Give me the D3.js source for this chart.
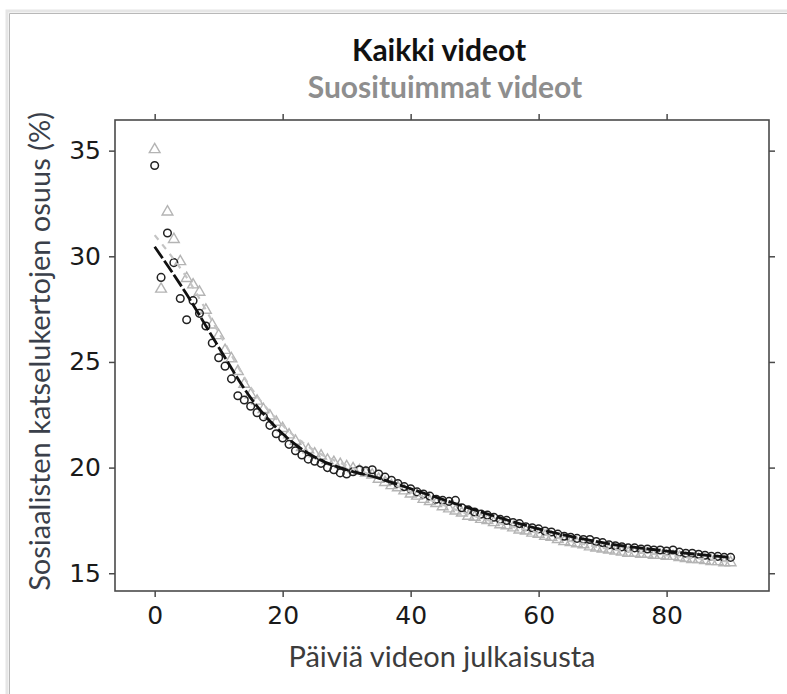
<!DOCTYPE html>
<html>
<head>
<meta charset="utf-8">
<script src="https://cdn.jsdelivr.net/npm/d3@7"></script>
<style>
  html, body { margin: 0; padding: 0; background: #fff; }
  svg { display: block; }
</style>
</head>
<body>
<svg id="chart" width="787" height="694"></svg>
<script>
// days since publishing, 0..90
const days = d3.range(0, 91);

// "Kaikki videot" – all videos (black circles)
const allVideos = [
  34.3, 29.0, 31.1, 29.7, 28.0, 27.0, 27.9, 27.3, 26.7, 25.9,
  25.2, 24.8, 24.2, 23.4, 23.2, 22.9, 22.6, 22.4, 22.0, 21.6,
  21.4, 21.1, 20.8, 20.6, 20.4, 20.3, 20.2, 20.0, 19.9, 19.75,
  19.7, 19.8, 19.9, 19.85, 19.9, 19.7, 19.55, 19.4, 19.25, 19.1,
  19.0, 18.85, 18.75, 18.65, 18.5, 18.45, 18.4, 18.45, 18.1, 18.0,
  17.9, 17.8, 17.75, 17.65, 17.55, 17.5, 17.4, 17.35, 17.2, 17.15,
  17.1, 17.0, 16.95, 16.85, 16.75, 16.7, 16.65, 16.6, 16.6, 16.5,
  16.45, 16.35, 16.3, 16.25, 16.2, 16.2, 16.15, 16.15, 16.1, 16.1,
  16.05, 16.1, 16.0, 15.95, 15.95, 15.9, 15.85, 15.8, 15.8, 15.75, 15.75
];

// "Suosituimmat videot" – most popular videos (grey triangles)
const topVideos = [
  35.1, 28.5, 32.15, 30.85, 29.8, 29.0, 28.7, 28.35, 27.5, 26.8,
  26.3, 25.6, 25.2, 24.6, 24.0, 23.5, 23.2, 22.8, 22.5, 22.2,
  21.9, 21.6, 21.3, 21.0, 20.9, 20.7, 20.6, 20.4, 20.3, 20.2,
  20.1, 20.0, 19.9, 19.8, 19.7, 19.5, 19.35, 19.2, 19.1, 18.95,
  18.8, 18.7, 18.55, 18.45, 18.35, 18.2, 18.1, 18.0, 17.9, 17.75,
  17.7, 17.6, 17.55, 17.45, 17.35, 17.3, 17.2, 17.1, 17.05, 16.95,
  16.9, 16.8, 16.75, 16.65, 16.55, 16.5, 16.45, 16.4, 16.3, 16.25,
  16.2, 16.15, 16.1, 16.05, 16.0, 16.0, 15.95, 15.95, 15.9, 15.9,
  15.85, 15.85, 15.8, 15.75, 15.7, 15.7, 15.65, 15.6, 15.6, 15.55, 15.55
];

// smoothed trend lines, read at a few days
const fitDays = [0, 5, 10, 15, 20, 25, 30, 35, 40, 50, 60, 70, 80, 90];
const allFit  = [30.45, 28.2, 25.7, 23.3, 21.6, 20.5, 19.9, 19.5, 19.0, 18.0, 17.1, 16.45, 16.05, 15.75];
const topFit  = [31.0, 29.0, 26.4, 23.8, 22.0, 20.8, 20.1, 19.5, 18.85, 17.7, 16.9, 16.2, 15.85, 15.55];

const xTicks = [0, 20, 40, 60, 80];
const yTicks = [15, 20, 25, 30, 35];

const titleMain = 'Kaikki videot';
const titleSub  = 'Suosituimmat videot';
const xTitle = 'Päiviä videon julkaisusta';
const yTitle = 'Sosiaalisten katselukertojen osuus (%)';

const W = 787, H = 694;
const plot = { left: 115, top: 120, right: 769, bottom: 591 };

const svg = d3.select('#chart');

// outer screenshot frame with a soft shadow
const frame = svg.append('g');
frame.append('path')
  .attr('d', `M7,${H} V11 H${W}`)
  .attr('fill', 'none').attr('stroke', '#e6e6e6').attr('stroke-width', 3);
frame.append('path')
  .attr('d', `M9.5,${H} V13.5 H${W}`)
  .attr('fill', 'none').attr('stroke', '#b8b8b8').attr('stroke-width', 1);

const x = d3.scaleLinear().domain([-6.2, 96]).range([plot.left, plot.right]);
const y = d3.scaleLinear().domain([14.16, 36.45]).range([plot.bottom, plot.top]);

const axisColor = '#4a4a4a';
const tickFont = '"DejaVu Sans", sans-serif';

function styleAxis(g) {
  g.select('.domain').remove();
  g.selectAll('.tick line').attr('stroke', axisColor).attr('stroke-width', 1.5);
  g.selectAll('.tick text')
    .attr('fill', '#1a1a1a')
    .style('font-family', tickFont)
    .style('font-size', '25px');
}

svg.append('g')
  .attr('transform', `translate(0,${plot.bottom})`)
  .call(d3.axisBottom(x).tickValues(xTicks).tickSize(6).tickPadding(9))
  .call(styleAxis);

svg.append('g')
  .attr('transform', `translate(0,${plot.top})`)
  .call(d3.axisTop(x).tickValues(xTicks).tickSize(6).tickFormat(''))
  .call(styleAxis);

svg.append('g')
  .attr('transform', `translate(${plot.left},0)`)
  .call(d3.axisLeft(y).tickValues(yTicks).tickSize(6).tickPadding(8))
  .call(styleAxis);

svg.append('g')
  .attr('transform', `translate(${plot.right},0)`)
  .call(d3.axisRight(y).tickValues(yTicks).tickSize(6).tickFormat(''))
  .call(styleAxis);

// plot frame
svg.append('rect')
  .attr('x', plot.left).attr('y', plot.top)
  .attr('width', plot.right - plot.left).attr('height', plot.bottom - plot.top)
  .attr('fill', 'none').attr('stroke', axisColor).attr('stroke-width', 1.6);

const pts = svg.append('g');

// grey triangles
const tri = d3.symbol().type(d3.symbolTriangle).size(50);
pts.selectAll('path.top')
  .data(days).join('path')
  .attr('class', 'top')
  .attr('d', tri)
  .attr('transform', d => `translate(${x(d)},${y(topVideos[d]) + 1})`)
  .attr('fill', 'none').attr('stroke', '#b4b4b4').attr('stroke-width', 1.4);

// black circles
pts.selectAll('circle')
  .data(days).join('circle')
  .attr('cx', d => x(d)).attr('cy', d => y(allVideos[d]))
  .attr('r', 3.8)
  .attr('fill', 'none').attr('stroke', '#222').attr('stroke-width', 1.5);

// trend lines
const line = vals => d3.line()
  .curve(d3.curveMonotoneX)
  .x((d, i) => x(fitDays[i]))
  .y((d, i) => y(vals[i]))(vals);

svg.append('path')
  .attr('d', line(topFit))
  .attr('fill', 'none').attr('stroke', '#c4c4c4').attr('stroke-width', 2.2)
  .attr('stroke-dasharray', '6,6');

svg.append('path')
  .attr('d', line(allFit))
  .attr('fill', 'none').attr('stroke', '#111').attr('stroke-width', 2.8)
  .attr('stroke-dasharray', '14,3');

// titles
const labelFont = 'Lato, "Open Sans", sans-serif';
svg.append('text')
  .attr('x', 439).attr('y', 61).attr('text-anchor', 'middle')
  .style('font-family', labelFont).style('font-weight', 'bold').style('font-size', '30px')
  .attr('fill', '#111')
  .text(titleMain);

svg.append('text')
  .attr('x', 445).attr('y', 98).attr('text-anchor', 'middle')
  .style('font-family', labelFont).style('font-weight', 'bold').style('font-size', '30px')
  .attr('fill', '#8e8e8e')
  .text(titleSub);

svg.append('text')
  .attr('x', 442).attr('y', 667).attr('text-anchor', 'middle')
  .style('font-family', labelFont).style('font-size', '29px')
  .attr('fill', '#3c3c3c')
  .text(xTitle);

svg.append('text')
  .attr('transform', `translate(50,${(plot.top + plot.bottom) / 2 - 4}) rotate(-90)`)
  .attr('text-anchor', 'middle')
  .style('font-family', labelFont).style('font-size', '29px')
  .attr('fill', '#3a3f4a')
  .text(yTitle);
</script>
</body>
</html>
